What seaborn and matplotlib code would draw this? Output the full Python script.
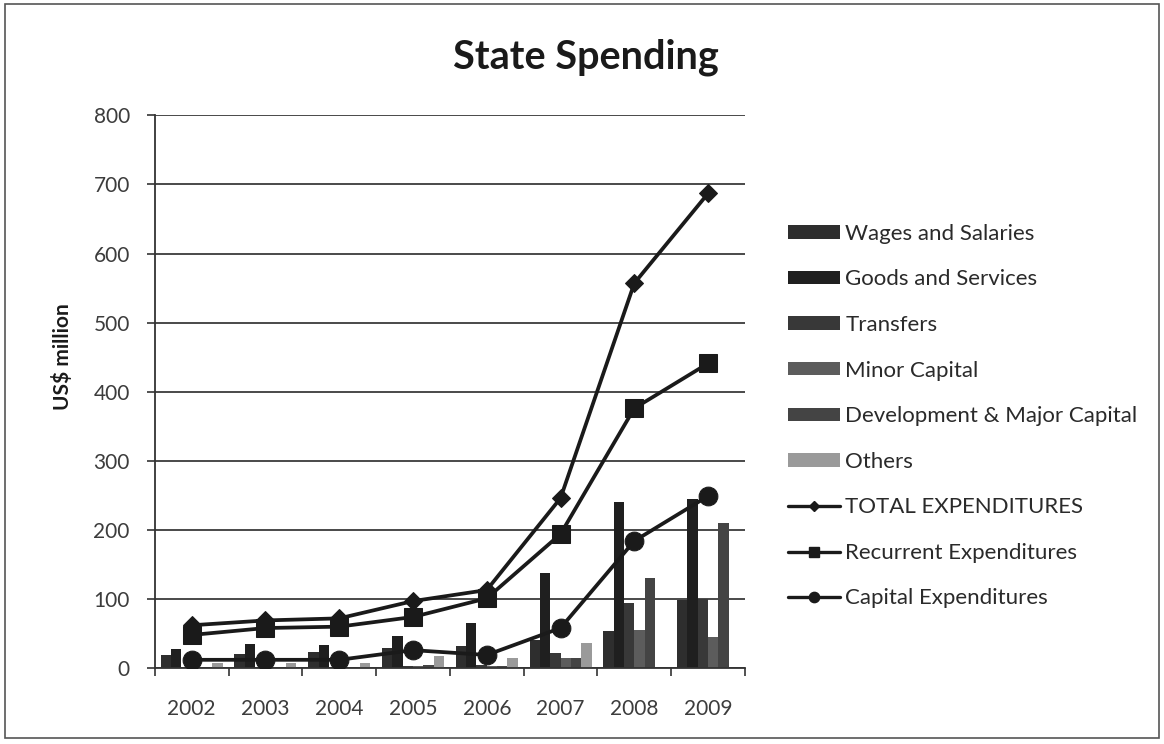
import numpy as np
import pandas as pd
import matplotlib
matplotlib.use("Agg")
import matplotlib.pyplot as plt
from matplotlib.patches import Patch, Rectangle
from matplotlib.lines import Line2D
import seaborn as sns

# Spending categories by year (US$ million)
years = ["2002", "2003", "2004", "2005", "2006", "2007", "2008", "2009"]
wages = [19, 21, 24, 29, 32, 40, 54, 98]
goods = [27, 35, 34, 46, 65, 138, 240, 245]
transfers = [2, 2, 2, 3, 5, 22, 94, 100]
minor_capital = [2, 2, 2, 3, 3, 14, 55, 45]
development = [2, 2, 2, 5, 3, 14, 130, 210]
others = [8, 8, 8, 18, 14, 36, 0, 0]

# Aggregate series
total_exp = [62, 69, 72, 97, 113, 246, 557, 687]
recurrent_exp = [48, 58, 60, 74, 101, 194, 376, 441]
capital_exp = [12, 12, 12, 26, 19, 58, 184, 249]

bar_names = ["Wages and Salaries", "Goods and Services", "Transfers",
             "Minor Capital", "Development & Major Capital", "Others"]
bar_series = [wages, goods, transfers, minor_capital, development, others]
bar_colors = ["#2e2e2e", "#1f1f1f", "#383838", "#5c5c5c", "#444444", "#9a9a9a"]

line_names = ["TOTAL EXPENDITURES", "Recurrent Expenditures", "Capital Expenditures"]
line_series = [total_exp, recurrent_exp, capital_exp]
line_markers = ["D", "s", "o"]
line_msizes = [9.5, 13, 13.5]

sns.set_theme(style="white")
plt.rcParams["font.family"] = ["Lato", "DejaVu Sans"]

df = pd.DataFrame({
    "Year": [y for name in bar_names for y in years],
    "Category": [name for name in bar_names for _ in years],
    "Value": [v for s in bar_series for v in s],
})

fig = plt.figure(figsize=(11.64, 7.44), dpi=100)
ax = fig.add_axes([0.133, 0.102, 0.507, 0.743])

sns.barplot(data=df, x="Year", y="Value", hue="Category", order=years,
            hue_order=bar_names, palette=bar_colors, saturation=1,
            width=0.84, gap=0, legend=False, ax=ax, linewidth=0, zorder=2)

ink = "#1a1a1a"
xpos = np.arange(len(years))
for name, vals, mk, ms in zip(line_names, line_series, line_markers, line_msizes):
    sns.lineplot(x=xpos, y=vals, color=ink, linewidth=2.7, marker=mk,
                 markersize=ms, markeredgecolor=ink, markerfacecolor=ink,
                 ax=ax, zorder=4, legend=False)

ax.set_xlim(-0.5, len(years) - 0.5)
ax.set_ylim(0, 800)
ax.set_yticks(range(0, 801, 100))
ax.set_xticks(xpos)
ax.set_xticklabels(years)
ax.set_xticks(np.arange(-0.5, len(years), 1.0), minor=True)
ax.grid(axis="y", color="#3a3a3a", linewidth=1.3, zorder=0)
ax.grid(axis="x", visible=False)
ax.set_axisbelow(True)

for side in ["top", "right"]:
    ax.spines[side].set_visible(False)
for side in ["left", "bottom"]:
    ax.spines[side].set_color("#333333")
    ax.spines[side].set_linewidth(1.3)

ax.tick_params(axis="y", which="major", direction="out", length=6, width=1.2,
               color="#333333", pad=12, labelsize=15, labelcolor="#3c3c3c", left=True)
ax.tick_params(axis="x", which="major", length=0, pad=22, labelsize=15,
               labelcolor="#3c3c3c")
ax.tick_params(axis="x", which="minor", direction="out", length=6, width=1.2,
               color="#333333", bottom=True)

ax.set_xlabel("")
ax.set_ylabel("US$ million", fontsize=15, fontweight="bold", color="#1a1a1a")
ax.yaxis.set_label_coords(-0.138, 0.564)

fig.text(0.503, 0.923, "State Spending", ha="center", va="center",
         fontsize=28.5, fontweight="bold", color="#1a1a1a")

handles = [Patch(facecolor=c, edgecolor="none") for c in bar_colors]
handles += [Line2D([0], [0], color=ink, linewidth=2.4, marker=mk,
                   markersize=ms * 0.55, markerfacecolor=ink, markeredgecolor=ink)
            for mk, ms in zip(line_markers, line_msizes)]
labels = bar_names + line_names
fig.legend(handles, labels, loc="upper left", bbox_to_anchor=(0.669, 0.711),
           frameon=False, fontsize=16, labelcolor="#2a2a2a", handlelength=2.35,
           handleheight=0.55, handletextpad=0.25, labelspacing=1.15,
           borderaxespad=0)

fig.patches.append(Rectangle((0.004, 0.008), 0.992, 0.986, transform=fig.transFigure,
                             fill=False, edgecolor="#555555", linewidth=1.2))

fig.savefig("out.png", dpi=100, facecolor="white")
